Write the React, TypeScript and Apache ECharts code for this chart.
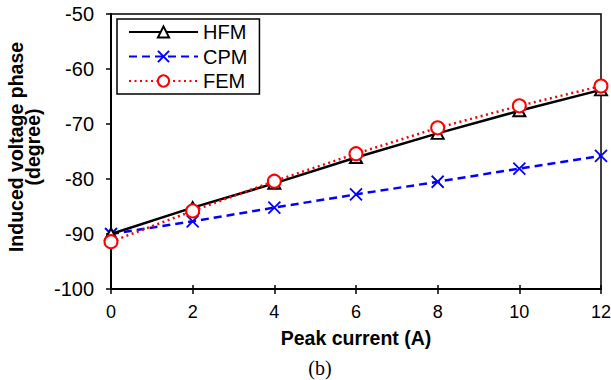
import React, { useEffect, useRef } from "react";
import * as echarts from "echarts";

const currents = [0, 2, 4, 6, 8, 10, 12];
const hfm = [-90.0, -85.2, -80.8, -76.1, -71.7, -67.6, -63.8];
const cpm = [-90.0, -87.7, -85.2, -82.8, -80.5, -78.1, -75.8];
const fem = [-91.4, -85.8, -80.4, -75.4, -70.7, -66.7, -63.1];
const seriesNames = ["HFM", "CPM", "FEM"];

const FONT = "Liberation Sans, Arial, sans-serif";

export default function App() {
  const ref = useRef<HTMLDivElement>(null);
  useEffect(() => {
    if (!ref.current) return;
    const chart = echarts.init(ref.current, undefined, { renderer: "svg" });
    const pair = (ys: number[]) => currents.map((x, i) => [x, ys[i]]);
    chart.setOption({
      animation: false,
      backgroundColor: "#fff",
      grid: {
        left: 111,
        right: 10,
        top: 14,
        bottom: 91,
        show: true,
        borderColor: "#000",
        borderWidth: 1.5,
        containLabel: false,
        outerBoundsMode: "none",
      },
      legend: {
        data: seriesNames,
        orient: "vertical",
        left: 117,
        top: 19,
        backgroundColor: "#fff",
        borderColor: "#000",
        borderWidth: 1.5,
        borderRadius: 0,
        padding: [3, 12, 3, 11],
        itemWidth: 69,
        itemHeight: 14,
        itemGap: 4.5,
        textStyle: { fontFamily: FONT, fontSize: 20, color: "#000" },
      },
      xAxis: [
        {
          type: "value",
          min: 0,
          max: 12,
          interval: 2,
          name: "Peak current (A)",
          nameLocation: "middle",
          nameGap: 39,
          nameTextStyle: { fontFamily: FONT, fontSize: 19.5, fontWeight: "bold", color: "#000" },
          axisLine: { show: true, lineStyle: { color: "#000", width: 2 } },
          axisTick: { show: true, length: 5, lineStyle: { color: "#000", width: 1.5 } },
          axisLabel: { fontFamily: FONT, fontSize: 18, color: "#000", margin: 14 },
          splitLine: { show: false },
        },
        {
          type: "value",
          min: 0,
          max: 12,
          interval: 2,
          position: "bottom",
          offset: 0,
          axisLine: { show: false },
          axisTick: { show: true, inside: true, length: 4, lineStyle: { color: "#000", width: 1.5 } },
          axisLabel: { show: false },
          splitLine: { show: false },
        },
      ],
      yAxis: {
        type: "value",
        min: -100,
        max: -50,
        interval: 10,
        name: "Induced voltage phase\n(degree)",
        nameLocation: "middle",
        nameGap: 68,
        nameTextStyle: {
          fontFamily: FONT,
          fontSize: 19.5,
          fontWeight: "bold",
          color: "#000",
          lineHeight: 17.5,
          padding: [0, 0, 0, 9],
        },
        axisLine: { show: true, lineStyle: { color: "#000", width: 2 } },
        axisTick: { show: true, length: 5, lineStyle: { color: "#000", width: 1.5 } },
        axisLabel: { fontFamily: FONT, fontSize: 20, color: "#000", margin: 17 },
        splitLine: { show: false },
      },
      graphic: [
        {
          type: "text",
          x: 320,
          y: 368,
          style: {
            text: "(b)",
            font: "20px 'Liberation Serif', 'Times New Roman', serif",
            fill: "#000",
            textAlign: "center",
            textVerticalAlign: "middle",
          },
        },
      ],
      series: [
        {
          name: "HFM",
          type: "line",
          data: pair(hfm),
          symbol: "emptyTriangle",
          symbolSize: [12, 11],
          lineStyle: { color: "#000", width: 2.5, type: "solid" },
          itemStyle: { color: "#000", borderColor: "#000", borderWidth: 1.6 },
          z: 3,
        },
        {
          name: "CPM",
          type: "line",
          data: pair(cpm),
          symbol: "path://M0,0L10,10M10,0L0,10",
          symbolSize: 12,
          lineStyle: { color: "#0000ff", width: 2.5, type: [8, 5] },
          itemStyle: { color: "#0000ff", borderColor: "#0000ff", borderWidth: 1.8 },
          z: 2,
        },
        {
          name: "FEM",
          type: "line",
          data: pair(fem),
          symbol: "emptyCircle",
          symbolSize: 13,
          lineStyle: { color: "#ff0000", width: 2.5, type: [2, 3.5] },
          itemStyle: { color: "#ff0000", borderColor: "#ff0000", borderWidth: 1.8 },
          z: 4,
        },
      ],
    });
    return () => chart.dispose();
  }, []);
  return <div ref={ref} style={{ width: 611, height: 380, position: "absolute", left: 0, top: 0 }} />;
}
